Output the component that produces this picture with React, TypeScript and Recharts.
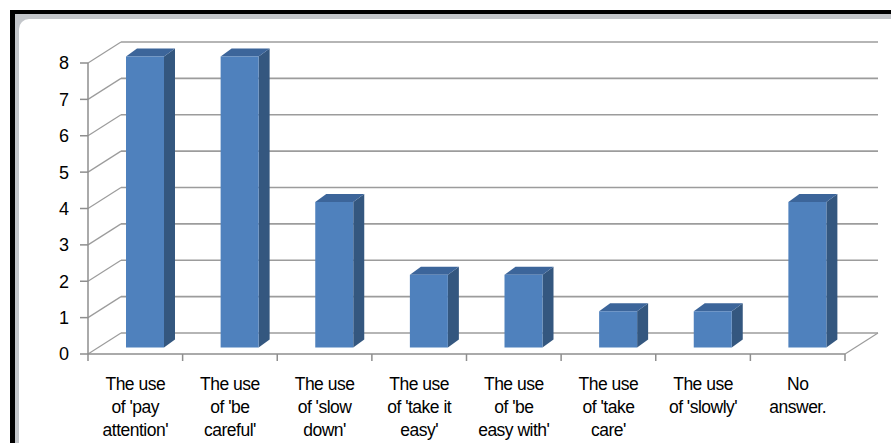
import { BarChart, Bar, XAxis, YAxis, CartesianGrid } from "recharts";

const categories = [
  "The use of 'pay attention'",
  "The use of 'be careful'",
  "The use of 'slow down'",
  "The use of 'take it easy'",
  "The use of 'be easy with'",
  "The use of 'take care'",
  "The use of 'slowly'",
  "No answer.",
];
const labelLines = [
  ["The use", "of 'pay", "attention'"],
  ["The use", "of 'be", "careful'"],
  ["The use", "of 'slow", "down'"],
  ["The use", "of 'take it", "easy'"],
  ["The use", "of 'be", "easy with'"],
  ["The use", "of 'take", "care'"],
  ["The use", "of 'slowly'"],
  ["No", "answer."],
];
const counts = [8, 8, 4, 2, 2, 1, 1, 4];
const yTicks = [0, 1, 2, 3, 4, 5, 6, 7, 8];

const data = categories.map((name, i) => ({ name, value: counts[i] }));

// depth of the 3D box (back wall offset)
const DX = 33;
const DY = 21;
// where the bars sit inside the depth, and how deep they are
const BX = 10;
const BY = 6.5;
const SX = 11;
const SY = 8;

const FONT = "'Liberation Sans', Arial, sans-serif";
const GRID = "#9c9c9c";
const AXIS = "#8e8e8e";

// gridline on the back wall plus its diagonal across the left wall;
// the bottom one also closes the floor on the right
function renderGrid(props: any) {
  const { x1, y1, x2, index, offset } = props;
  const by = y1 - DY;
  const isFloor = offset && Math.abs(y1 - (offset.top + offset.height)) < 0.5;
  return (
    <g key={`grid-${index}`}>
      <line x1={x1} y1={y1} x2={x1 + DX} y2={by} stroke={GRID} strokeWidth={1.2} />
      <line x1={x1 + DX} y1={by} x2={x2 + DX} y2={by} stroke={GRID} strokeWidth={1.7} />
      {isFloor && <line x1={x2} y1={y1} x2={x2 + DX} y2={by} stroke={GRID} strokeWidth={1.2} />}
    </g>
  );
}

function Box3D(props: any) {
  const { x, y, width, height } = props;
  if (height == null || height <= 0) return <g />;
  const fx = x + BX;
  const fy = y - BY;
  const front = `M${fx},${fy}h${width}v${height}h${-width}Z`;
  const side = `M${fx + width},${fy}L${fx + width + SX},${fy - SY}V${fy + height - SY}L${fx + width},${fy + height}Z`;
  const top = `M${fx},${fy}L${fx + SX},${fy - SY}H${fx + width + SX}L${fx + width},${fy}Z`;
  return (
    <g>
      <path d={side} fill="#34577f" />
      <path d={top} fill="#3c659a" />
      <path d={front} fill="#4f81bd" />
    </g>
  );
}

function CategoryTick(props: any) {
  const { x, y, index, width } = props;
  const half = width / categories.length / 2;
  const axisY = y - 8;
  const lines = labelLines[index] || [];
  return (
    <g>
      <line x1={x - half} y1={axisY} x2={x - half} y2={axisY + 7} stroke={AXIS} strokeWidth={1.5} />
      {index === categories.length - 1 && (
        <line x1={x + half} y1={axisY} x2={x + half} y2={axisY + 7} stroke={AXIS} strokeWidth={1.5} />
      )}
      <text x={x} y={axisY + 36} textAnchor="middle" fontSize={17.5} fontFamily={FONT} fill="#000" letterSpacing={-0.5}>
        {lines.map((l: string, i: number) => (
          <tspan key={i} x={x} dy={i === 0 ? 0 : 23}>
            {l}
          </tspan>
        ))}
      </text>
    </g>
  );
}

export default function App() {
  return (
    <div style={{ position: "absolute", left: 0, top: 0, width: 891, height: 443, background: "#fff", overflow: "hidden" }}>
      <div style={{ position: "absolute", left: 10, top: 10, right: 0, bottom: 0, background: "#000" }} />
      <div style={{ position: "absolute", left: 15, top: 14, right: 0, bottom: 0, background: "#c3c6ca" }} />
      <div style={{ position: "absolute", left: 19, top: 19, right: -20, bottom: -20, background: "#fff", borderTopLeftRadius: 10 }} />
      <div style={{ position: "absolute", left: 0, top: 0 }}>
        <BarChart
          width={891}
          height={443}
          data={data}
          margin={{ top: 63, right: 46, bottom: 0, left: 0 }}
          barCategoryGap={0}
        >
          <CartesianGrid vertical={false} horizontal={renderGrid} />
          <YAxis
            type="number"
            domain={[0, 8]}
            ticks={yTicks}
            interval={0}
            width={88}
            tickSize={8}
            tickMargin={11}
            axisLine={{ stroke: AXIS, strokeWidth: 1.5 }}
            tickLine={{ stroke: AXIS, strokeWidth: 1.5 }}
            tick={{ fontSize: 18, fill: "#000", fontFamily: FONT }}
          />
          <XAxis
            dataKey="name"
            type="category"
            interval={0}
            height={89}
            tickSize={6}
            tickMargin={2}
            tickLine={false}
            axisLine={{ stroke: AXIS, strokeWidth: 1.5 }}
            tick={<CategoryTick />}
          />
          <Bar dataKey="value" barSize={38} shape={<Box3D />} isAnimationActive={false} />
        </BarChart>
      </div>
    </div>
  );
}
